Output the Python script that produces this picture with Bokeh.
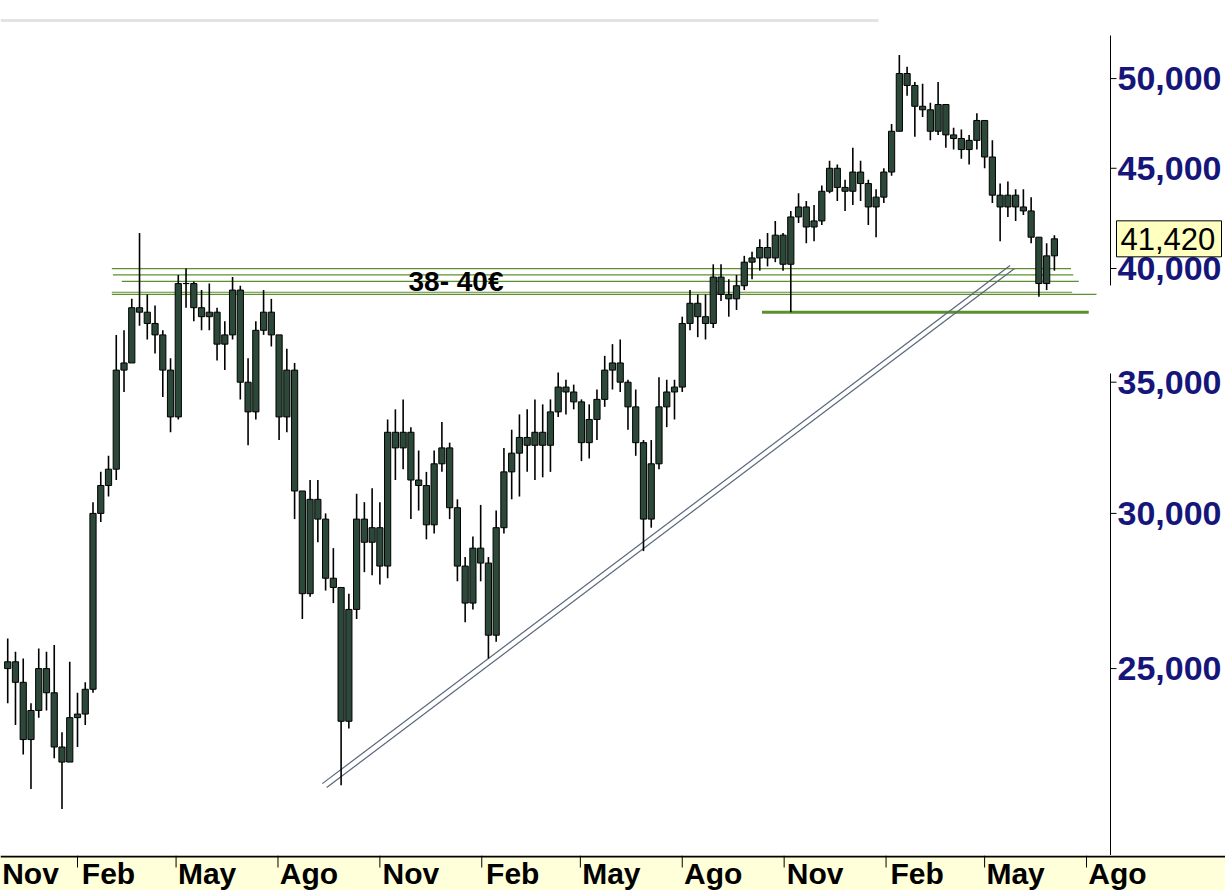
import math
import pandas as pd
from bokeh.plotting import figure
from bokeh.layouts import column
from bokeh.models import Range1d, ColumnDataSource, Span
from bokeh.embed import file_html
from bokeh.resources import INLINE
from bokeh.core.properties import value

# ---------------- data ----------------
week_start = "2016-11-30"          # weekly candles, one per week
highs = [25.9, 25.5, 25.3, 24.0, 25.6, 25.5, 25.7, 23.2, 25.2, 24.3, 24.6, 30.4,
         31.5, 32.1, 37.0, 37.2, 38.6, 41.7, 38.8, 38.3, 37.2, 36.0, 39.7, 40.0,
         39.4, 39.0, 39.3, 38.2, 37.6, 39.6, 39.2, 36.0, 37.6, 39.0, 38.6, 37.0,
         36.4, 35.8, 30.8, 31.2, 31.2, 30.0, 28.8, 27.5, 27.3, 30.7, 30.4, 30.9,
         30.4, 33.5, 33.9, 34.3, 33.2, 32.3, 31.5, 32.3, 33.4, 32.6, 30.5, 28.5,
         29.2, 30.3, 28.5, 30.1, 32.4, 33.1, 33.7, 33.9, 34.3, 34.1, 34.3, 35.4,
         35.1, 34.9, 34.3, 34.1, 34.7, 36.1, 36.6, 36.8, 35.1, 34.7, 32.7, 32.7,
         35.2, 35.1, 35.1, 37.8, 39.0, 38.8, 38.8, 40.2, 40.2, 39.5, 39.7, 40.6,
         40.8, 41.4, 41.7, 42.3, 41.7, 42.8, 43.7, 43.3, 43.1, 44.1, 45.4, 45.2,
         44.4, 46.1, 45.4, 44.4, 43.9, 45.0, 47.4, 51.4, 50.7, 49.8, 49.7, 48.6,
         49.8, 48.5, 47.2, 47.1, 46.8, 48.0, 47.6, 46.5, 44.2, 44.3, 43.9, 43.9,
         43.5, 41.5, 41.2, 41.6]
lows = [24.0, 23.4, 22.6, 21.7, 23.6, 23.8, 22.5, 21.2, 22.4, 22.8, 23.4, 24.3,
        29.7, 30.6, 31.2, 34.6, 35.8, 37.4, 36.8, 36.2, 34.4, 33.0, 33.5, 38.2,
        37.6, 37.2, 37.2, 35.9, 35.5, 36.8, 34.3, 32.5, 33.5, 37.0, 36.5, 32.7,
        33.0, 29.8, 26.5, 27.2, 29.0, 27.4, 27.0, 21.8, 23.3, 26.5, 28.0, 27.9,
        27.6, 27.8, 31.2, 31.6, 29.8, 30.1, 29.1, 29.3, 31.5, 29.8, 27.7, 26.4,
        26.8, 27.7, 25.3, 25.8, 29.3, 30.5, 30.6, 31.5, 31.2, 31.3, 31.5, 33.6,
        33.7, 33.9, 31.9, 32.0, 32.7, 34.0, 34.7, 34.6, 33.1, 32.1, 28.7, 29.5,
        31.6, 33.2, 33.5, 34.6, 37.2, 36.9, 36.8, 37.3, 38.5, 37.8, 38.1, 39.0,
        39.5, 39.9, 40.1, 40.3, 39.9, 38.0, 42.2, 41.2, 41.3, 42.1, 43.7, 43.3,
        42.8, 43.1, 43.3, 42.1, 41.5, 43.2, 44.6, 47.0, 49.0, 46.7, 47.8, 46.5,
        46.8, 46.1, 46.0, 45.5, 45.2, 46.0, 45.0, 43.2, 41.3, 42.5, 42.3, 42.6,
        41.2, 38.7, 39.0, 39.9]
closes = [25.2, 24.6, 23.0, 23.8, 25.0, 24.3, 22.8, 22.4, 23.6, 23.7, 24.4, 30.0,
          31.0, 31.6, 35.5, 35.8, 38.2, 38.0, 37.5, 37.0, 35.5, 33.6, 39.3, 39.3,
          38.2, 37.8, 38.0, 36.6, 37.0, 39.0, 35.0, 33.8, 37.2, 38.0, 37.0, 33.6,
          35.5, 30.8, 27.3, 30.5, 29.8, 27.8, 27.5, 23.5, 26.8, 29.8, 29.0, 29.5,
          28.2, 33.0, 32.4, 33.0, 31.2, 31.0, 29.6, 31.8, 32.4, 30.2, 28.2, 27.0,
          28.8, 28.3, 26.0, 29.5, 31.5, 32.2, 32.8, 32.5, 33.0, 32.5, 33.8, 34.8,
          34.6, 34.2, 32.6, 33.5, 34.3, 35.5, 35.8, 35.0, 34.0, 32.6, 29.8, 31.8,
          34.0, 34.6, 34.8, 37.5, 38.4, 37.8, 37.5, 39.6, 38.8, 38.6, 39.2, 40.3,
          40.5, 41.0, 40.5, 41.6, 40.2, 42.5, 43.0, 42.0, 42.3, 43.8, 45.0, 44.0,
          43.8, 44.8, 44.2, 43.0, 43.5, 44.8, 47.0, 50.3, 49.6, 48.4, 48.2, 47.0,
          48.5, 46.8, 46.6, 46.0, 46.5, 47.6, 45.6, 43.6, 43.0, 43.6, 43.0, 42.8,
          41.5, 39.3, 40.6, 41.42]
first_open = 25.0

month_ticks = ["2016-11-01", "2017-02-01", "2017-05-01", "2017-08-01", "2017-11-01",
               "2018-02-01", "2018-05-01", "2018-08-01", "2018-11-01", "2019-02-01",
               "2019-05-01", "2019-08-01"]
month_labels = ["Nov", "Feb", "May", "Ago", "Nov", "Feb", "May", "Ago", "Nov", "Feb",
                "May", "Ago"]

price_ticks = [25, 30, 35, 40, 45, 50]
price_labels = ["25,000", "30,000", "35,000", "40,000", "45,000", "50,000"]

zone_levels = [40.0, 39.7, 39.4, 38.9, 38.8]
zone_start = ["2017-03-04", "2017-03-05", "2017-03-13", "2017-03-04", "2017-03-04"]
zone_end = ["2019-07-18", "2019-07-20", "2019-07-25", "2019-07-19", "2019-08-10"]

support_level = [38.0]
support_start = ["2018-10-12"]
support_end = ["2019-08-03"]

trend_start = ["2017-09-10", "2017-09-14"]
trend_start_price = [21.84, 21.74]
trend_end = ["2019-05-24", "2019-05-28"]
trend_end_price = [40.14, 40.0]

last_price = 41.42
last_label = "41,420"
zone_text = "38- 40€"
zone_text_price = 39.4

# ---------------- layout helpers ----------------
ORIGIN = pd.Timestamp("2017-02-01")
PX_ORIGIN = 77.0      # pixel column of ORIGIN
PPD = 1.1076          # pixels per day
Y_A, Y_B = 3408.0, 851.2   # log price scale (pixel rows)
W, H_MAIN, H_STRIP = 1225, 855, 35


def day(s):
    return (pd.Timestamp(s) - ORIGIN).days


def px_to_day(px):
    return (px - PX_ORIGIN) / PPD


def px_to_price(py):
    return math.exp((Y_A - py) / Y_B)


FONT = "Liberation Sans"
NAVY = "#16167a"
GREEN = "#5e8f2f"

# ---------------- main price chart ----------------
p = figure(frame_width=W, frame_height=H_MAIN,
           x_range=Range1d(px_to_day(0), px_to_day(W)),
           y_range=Range1d(px_to_price(H_MAIN), px_to_price(0)),
           y_axis_type="log", x_axis_location=None, y_axis_location=None,
           output_backend="svg", toolbar_location=None, min_border=0)
p.outline_line_color = None
p.xgrid.visible = False
p.ygrid.visible = False
p.background_fill_color = "white"
p.border_fill_color = "white"

# faint header rule
p.segment(x0=[px_to_day(0)], y0=[px_to_price(20)], x1=[px_to_day(878)], y1=[px_to_price(20)],
          line_color="#e3e3e3", line_width=3)

# price axis (right side)
ax_x = px_to_day(1110)
p.segment(x0=[ax_x, ax_x], y0=[px_to_price(35), px_to_price(373)],
          x1=[ax_x, ax_x], y1=[px_to_price(285), px_to_price(H_MAIN)],
          line_color="black", line_width=1)
p.segment(x0=[ax_x] * len(price_ticks), y0=price_ticks,
          x1=[px_to_day(1116)] * len(price_ticks), y1=price_ticks,
          line_color="black", line_width=1)
p.text(x=[px_to_day(1117)] * len(price_ticks), y=price_ticks, text=price_labels,
       text_font=value(FONT), text_font_style="bold", text_font_size="34px",
       text_color=NAVY, text_align="left", text_baseline="middle")

xs = [(d - ORIGIN).days for d in pd.date_range(week_start, periods=len(closes), freq="7D")]
opens = [first_open] + closes[:-1]
src = ColumnDataSource(dict(
    x=xs, h=highs, l=lows,
    top=[max(o, c) for o, c in zip(opens, closes)],
    bottom=[min(o, c) for o, c in zip(opens, closes)],
))

# support zone lines
p.segment(x0=[day(s) for s in zone_start], y0=zone_levels,
          x1=[day(s) for s in zone_end], y1=zone_levels,
          line_color=GREEN, line_width=1.2)
p.segment(x0=[day(s) for s in support_start], y0=support_level,
          x1=[day(s) for s in support_end], y1=support_level,
          line_color=GREEN, line_width=3)
# double trend line
p.segment(x0=[day(s) for s in trend_start], y0=trend_start_price,
          x1=[day(s) for s in trend_end], y1=trend_end_price,
          line_color="#58667a", line_width=1.2)

# candles
p.segment(x0="x", y0="h", x1="x", y1="l", source=src, line_color="black", line_width=1.6)
p.vbar(x="x", width=5.6, top="top", bottom="bottom", source=src,
       fill_color="#2b4838", line_color="black", line_width=1)

p.text(x=[px_to_day(408)], y=[zone_text_price], text=[zone_text],
       text_font=value(FONT), text_font_style="bold", text_font_size="28px",
       text_align="left", text_baseline="middle", text_color="black")

# last price flag
half = 18 / Y_B
p.quad(left=[px_to_day(1116)], right=[px_to_day(1221)],
       bottom=[last_price * math.exp(-half)], top=[last_price * math.exp(half)],
       fill_color="#FFFFC0", line_color="black", line_width=1)
p.text(x=[px_to_day(1120)], y=[last_price], text=[last_label],
       text_font=value(FONT), text_font_size="31px", text_color="black",
       text_align="left", text_baseline="middle")

# ---------------- month strip ----------------
strip = figure(frame_width=W, frame_height=H_STRIP,
               x_range=Range1d(px_to_day(0), px_to_day(W)),
               y_range=Range1d(0, H_STRIP),
               x_axis_location=None, y_axis_location=None,
               output_backend="svg", toolbar_location=None, min_border=0)
strip.outline_line_color = None
strip.xgrid.visible = False
strip.ygrid.visible = False
strip.background_fill_color = "#FFFFD9"
strip.border_fill_color = "#FFFFD9"

tick_days = [day(t) for t in month_ticks]
strip.segment(x0=tick_days, y0=[23] * len(tick_days), x1=tick_days, y1=[H_STRIP] * len(tick_days),
              line_color="black", line_width=1)
strip.add_layout(Span(location=H_STRIP - 1, dimension="width", line_color="black", line_width=2))
# label centres sit just right of each tick; the first one is kept inside the strip
label_x = [max(t + 31 / PPD, px_to_day(30)) for t in tick_days]
strip.text(x=label_x, y=[H_STRIP - 1] * len(tick_days), text=month_labels,
           text_font=value(FONT), text_font_style="bold", text_font_size="30px",
           text_align="center", text_baseline="top", text_color="black")

layout = column(p, strip, spacing=0)
open("out.html", "w").write(file_html(layout, INLINE))
